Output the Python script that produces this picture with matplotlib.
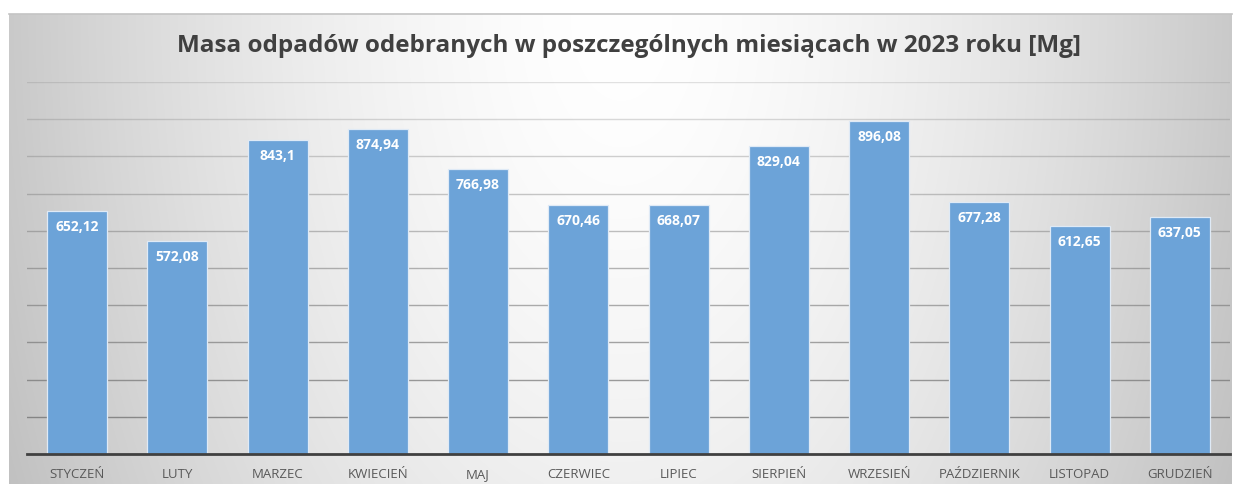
import numpy as np
import matplotlib
matplotlib.use("Agg")
import matplotlib.pyplot as plt

months = ["STYCZEŃ", "LUTY", "MARZEC", "KWIECIEŃ", "MAJ", "CZERWIEC", "LIPIEC",
          "SIERPIEŃ", "WRZESIEŃ", "PAŹDZIERNIK", "LISTOPAD", "GRUDZIEŃ"]
values = [652.12, 572.08, 843.1, 874.94, 766.98, 670.46, 668.07,
          829.04, 896.08, 677.28, 612.65, 637.05]
labels = ["652,12", "572,08", "843,1", "874,94", "766,98", "670,46", "668,07",
          "829,04", "896,08", "677,28", "612,65", "637,05"]
title = "Masa odpadów odebranych w poszczególnych miesiącach w 2023 roku [Mg]"
grid_values = [100, 200, 300, 400, 500, 600, 700, 800, 900, 1000]

W, H = 1235, 484
fig = plt.figure(figsize=(W / 100, H / 100), dpi=100)
fig.patch.set_facecolor("white")

# background panel with radial gradient
bg = fig.add_axes([9 / W, 0, (1232 - 9) / W, (H - 14) / H])
bg.set_axis_off()
ny, nx = 235, 612
yy, xx = np.mgrid[0:ny, 0:nx]
cx, cy = nx * 0.5, 0
d = np.sqrt(((xx - cx) / (nx * 0.5)) ** 2 + ((yy - cy) / (ny * 2.2)) ** 2)
d = np.clip(d, 0, 1.2)
v = 1.0 - 0.21 * d ** 1.6
img = np.dstack([v, v, v])
bg.imshow(img, aspect="auto", extent=[0, 1, 0, 1], origin="upper", interpolation="bilinear")
bg.set_xlim(0, 1)
bg.set_ylim(0, 1)
bg.plot([0, 1], [1, 1], color="#c4c4c4", lw=1.2, transform=bg.transAxes, clip_on=False)

ax = fig.add_axes([27 / W, (H - 454) / H, (1230 - 27) / W, (454 - 82) / H])
ax.patch.set_alpha(0)
x = np.arange(len(months))
ax.set_xlim(-0.5, len(months) - 0.5)
ax.set_ylim(0, 1000)
for gy in grid_values:
    a = 0.8 - 0.6 * (gy / 1000.0)
    ax.axhline(gy, color="#6f6f6f", lw=1.0, alpha=a, zorder=1)
ax.bar(x, values, width=0.6, color="#6ca3d8", edgecolor="#dfeaf6", linewidth=0.9, zorder=2)
for xi, v_, lab in zip(x, values, labels):
    ax.annotate(lab, (xi, v_), xytext=(0, -16), textcoords="offset pixels",
                ha="center", va="center", color="white", fontsize=10,
                fontweight="bold", family="Open Sans", zorder=3)
for s in ["top", "right", "left"]:
    ax.spines[s].set_visible(False)
ax.spines["bottom"].set_color("#404040")
ax.spines["bottom"].set_linewidth(2)
ax.spines["bottom"].set_zorder(4)
ax.set_yticks([])
ax.set_xticks(x)
ax.set_xticklabels(months, family="Open Sans", fontsize=9.5, color="#595959")
ax.tick_params(axis="x", length=0, pad=10)

fig.text(629 / W, 1 - 46 / H, title, ha="center", va="center", fontsize=17.5,
         fontweight="bold", color="#404040", family="Open Sans")

fig.savefig("out.png", dpi=100)
